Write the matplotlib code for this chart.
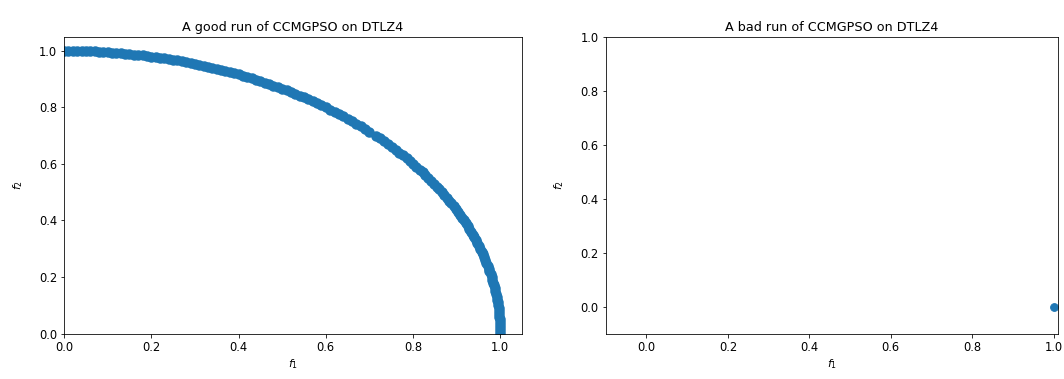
import matplotlib
matplotlib.use('Agg')
import matplotlib.pyplot as plt

# good run, upper part of the front
upper_f1 = [0.00, 0.01, 0.02, 0.03, 0.04, 0.05, 0.06, 0.07, 0.08, 0.09,
            0.10, 0.11, 0.12, 0.13, 0.14, 0.15, 0.16, 0.17, 0.18, 0.19,
            0.20, 0.21, 0.22, 0.23, 0.24, 0.25, 0.26, 0.27, 0.28, 0.29,
            0.30, 0.31, 0.32, 0.33, 0.34, 0.35, 0.36, 0.37, 0.38, 0.39,
            0.40, 0.41, 0.42, 0.43, 0.44, 0.45, 0.46, 0.47, 0.48, 0.49,
            0.50, 0.51, 0.52, 0.53, 0.54, 0.55, 0.56, 0.57, 0.58, 0.59,
            0.60, 0.61, 0.62, 0.63, 0.64, 0.65, 0.66, 0.67, 0.68, 0.69, 0.70]
upper_f2 = [1.000, 1.000, 1.000, 1.000, 0.999, 0.999, 0.998, 0.998, 0.997, 0.996,
            0.995, 0.994, 0.993, 0.992, 0.990, 0.989, 0.987, 0.985, 0.984, 0.982,
            0.980, 0.978, 0.975, 0.973, 0.971, 0.968, 0.966, 0.963, 0.960, 0.957,
            0.954, 0.951, 0.947, 0.944, 0.940, 0.937, 0.933, 0.929, 0.925, 0.921,
            0.917, 0.912, 0.908, 0.903, 0.898, 0.893, 0.888, 0.883, 0.877, 0.872,
            0.866, 0.860, 0.854, 0.848, 0.842, 0.835, 0.828, 0.822, 0.815, 0.807,
            0.800, 0.792, 0.785, 0.777, 0.768, 0.760, 0.751, 0.742, 0.733, 0.724, 0.714]

# good run, lower-right part of the front
lower_f1 = [0.714, 0.724, 0.733, 0.742, 0.751, 0.760, 0.768, 0.777, 0.785, 0.792, 0.800,
            0.807, 0.815, 0.822, 0.828, 0.835, 0.842, 0.848, 0.854, 0.860, 0.866,
            0.872, 0.877, 0.883, 0.888, 0.893, 0.898, 0.903, 0.908, 0.912, 0.917,
            0.921, 0.925, 0.929, 0.933, 0.937, 0.940, 0.944, 0.947, 0.951, 0.954,
            0.957, 0.960, 0.963, 0.966, 0.968, 0.971, 0.973, 0.975, 0.978, 0.980,
            0.982, 0.984, 0.985, 0.987, 0.989, 0.990, 0.992, 0.993, 0.994, 0.995,
            0.996, 0.997, 0.998, 0.998, 0.999, 0.999, 1.000, 1.000, 1.000, 1.000]
lower_f2 = [0.70, 0.69, 0.68, 0.67, 0.66, 0.65, 0.64, 0.63, 0.62, 0.61, 0.60,
            0.59, 0.58, 0.57, 0.56, 0.55, 0.54, 0.53, 0.52, 0.51, 0.50,
            0.49, 0.48, 0.47, 0.46, 0.45, 0.44, 0.43, 0.42, 0.41, 0.40,
            0.39, 0.38, 0.37, 0.36, 0.35, 0.34, 0.33, 0.32, 0.31, 0.30,
            0.29, 0.28, 0.27, 0.26, 0.25, 0.24, 0.23, 0.22, 0.21, 0.20,
            0.19, 0.18, 0.17, 0.16, 0.15, 0.14, 0.13, 0.12, 0.11, 0.10,
            0.09, 0.08, 0.07, 0.06, 0.05, 0.04, 0.03, 0.02, 0.01, 0.00]

# bad run: collapsed to a single point
bad_f1 = [1.0]
bad_f2 = [0.0]

ticks = [0.0, 0.2, 0.4, 0.6, 0.8, 1.0]
blue = '#1f77b4'

plt.rcParams['xtick.labelsize'] = 11.5
plt.rcParams['ytick.labelsize'] = 11.5
plt.rcParams['axes.titlesize'] = 12.7
plt.rcParams['axes.labelsize'] = 11

fig = plt.figure(figsize=(1064 / 72, 379 / 72), dpi=72)
ax1 = fig.add_axes([0.0602, 0.1200, 0.4305, 0.7816])
ax2 = fig.add_axes([0.5693, 0.1200, 0.4248, 0.7816])

ax1.scatter(upper_f1 + lower_f1, upper_f2 + lower_f2, s=110, color=blue, linewidths=0)
ax1.set_xlim(0, 1.05)
ax1.set_ylim(0, 1.048)
ax1.set_xticks(ticks)
ax1.set_yticks(ticks)
ax1.set_title('A good run of CCMGPSO on DTLZ4')
ax1.set_xlabel('$f_1$')
ax1.set_ylabel('$f_2$', labelpad=14)

ax2.scatter(bad_f1, bad_f2, s=60, color=blue)
ax2.set_xlim(-0.1, 1.01)
ax2.set_ylim(-0.1, 1.0)
ax2.set_xticks(ticks)
ax2.set_yticks(ticks)
ax2.set_title('A bad run of CCMGPSO on DTLZ4')
ax2.set_xlabel('$f_1$')
ax2.set_ylabel('$f_2$', labelpad=14)

fig.savefig('out.png', dpi=72)
